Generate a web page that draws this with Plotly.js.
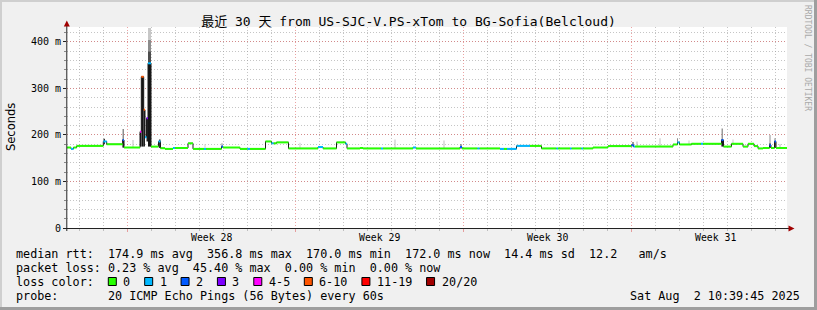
<!DOCTYPE html>
<html><head><meta charset="utf-8">
<script src="https://cdn.plot.ly/plotly-3.0.1.min.js"></script>
<style>html,body{margin:0;padding:0;background:#f0f0f0}#chart{width:817px;height:310px}</style>
</head><body><div id="chart"></div>
<script>
// ---------------- data ----------------
const titleText = '最近 30 天 from US-SJC-V.PS-xTom to BG-Sofia(Belcloud)';
const rangeStart = '2025-07-03 11:42';
const rangeEnd = '2025-08-02 11:42';
const weekStarts = '2025-07-06';
const dayStarts = '2025-07-04';
const weekLabelAt = ['2025-07-09 12:00', '2025-07-16 12:00', '2025-07-23 12:00', '2025-07-30 12:00'];
const weekLabels = ['Week 28', 'Week 29', 'Week 30', 'Week 31'];
const yTickVals = [0, 100, 200, 300, 400];
const yTickText = ['0', '100 m', '200 m', '300 m', '400 m'];

// median RTT (ms): segment start time, value, loss class index
const medT = ['2025-07-03 11:42','2025-07-03 15:42','2025-07-03 18:12','2025-07-03 21:24','2025-07-05 00:00','2025-07-05 03:24','2025-07-05 19:24','2025-07-05 20:42','2025-07-06 12:42','2025-07-06 14:00','2025-07-06 16:24','2025-07-06 17:42','2025-07-06 19:12','2025-07-06 20:42','2025-07-06 23:42','2025-07-07 07:12','2025-07-07 09:12','2025-07-07 13:42','2025-07-07 21:42','2025-07-07 23:42','2025-07-08 12:42','2025-07-08 17:42','2025-07-09 04:42','2025-07-09 06:42','2025-07-09 22:12','2025-07-09 23:42','2025-07-10 16:42','2025-07-11 00:12','2025-07-11 02:42','2025-07-11 18:12','2025-07-12 00:12','2025-07-12 02:12','2025-07-12 05:12','2025-07-12 17:12','2025-07-13 22:42','2025-07-14 03:42','2025-07-14 17:12','2025-07-15 02:12','2025-07-15 03:42','2025-07-15 16:42','2025-07-15 19:42','2025-07-16 13:42','2025-07-16 15:42','2025-07-17 21:42','2025-07-18 00:42','2025-07-19 20:42','2025-07-19 22:42','2025-07-20 14:12','2025-07-20 16:12','2025-07-21 12:42','2025-07-21 16:42','2025-07-21 19:42','2025-07-22 05:12','2025-07-22 18:42','2025-07-23 06:12','2025-07-23 21:12','2025-07-23 22:42','2025-07-24 10:42','2025-07-24 12:12','2025-07-24 22:12','2025-07-24 23:42','2025-07-25 09:42','2025-07-26 00:42','2025-07-27 00:12','2025-07-27 02:12','2025-07-27 03:42','2025-07-28 17:42','2025-07-28 22:12','2025-07-29 00:12','2025-07-29 12:12','2025-07-29 21:42','2025-07-29 23:42','2025-07-30 18:12','2025-07-30 20:12','2025-07-31 04:12','2025-07-31 15:42','2025-07-31 20:42','2025-08-01 02:42','2025-08-01 06:42','2025-08-01 11:42','2025-08-01 18:12','2025-08-01 19:42','2025-08-01 23:12','2025-08-02 00:42'];
const medV = [173,170,173,176.5,186,180,189,173,207,325,254,195,236,354,175,186,171.5,170,172,172,182,170,170,170,175,173,170,170,170,186,182,182,184,171,174,171,184,181,171,172,171,171,171,173,171,174,171,171,171,170,170,170,176.5,176.5,171,171,171,171,171,171,171,173,176,178,175,175,179.5,184,179.5,181,181,181,189,175,181,175,181,176,171,172,178,172,186,172];
const medLoss = [0,1,0,0,1,0,2,0,4,5,5,1,3,1,0,1,0,0,1,0,0,0,1,0,2,0,0,1,0,0,1,0,0,0,1,0,0,1,0,0,0,1,0,1,0,2,0,1,0,1,0,1,1,0,0,1,0,1,0,1,0,0,0,2,1,0,0,1,0,0,1,0,2,0,0,0,0,0,0,0,2,0,2,0];

// smoke (ping spread) samples
const smokeFrom = ['2025-07-05 00:12','2025-07-05 19:12','2025-07-05 19:12','2025-07-06 05:12','2025-07-06 12:42','2025-07-06 14:00','2025-07-06 16:24','2025-07-06 19:12','2025-07-06 20:42','2025-07-06 20:42','2025-07-06 20:42','2025-07-06 20:42','2025-07-07 07:42','2025-07-09 05:12','2025-07-09 22:12','2025-07-13 04:12','2025-07-17 03:12','2025-07-19 04:12','2025-07-19 21:12','2025-07-27 01:12','2025-07-27 05:12','2025-07-28 04:12','2025-07-28 21:42','2025-07-29 09:12','2025-07-30 18:12','2025-07-30 18:12','2025-07-31 05:12','2025-08-01 18:12','2025-08-01 18:12','2025-08-01 23:12','2025-08-01 23:12','2025-08-02 04:12'];
const smokeTo = ['2025-07-05 01:42','2025-07-05 20:42','2025-07-05 20:42','2025-07-06 06:12','2025-07-06 13:42','2025-07-06 16:24','2025-07-06 17:42','2025-07-06 20:42','2025-07-06 23:42','2025-07-06 23:42','2025-07-06 23:42','2025-07-06 23:42','2025-07-07 09:12','2025-07-09 06:12','2025-07-09 23:12','2025-07-13 05:12','2025-07-17 04:12','2025-07-19 05:12','2025-07-19 22:12','2025-07-27 02:12','2025-07-27 06:12','2025-07-28 05:12','2025-07-28 22:42','2025-07-29 10:12','2025-07-30 19:42','2025-07-30 19:42','2025-07-31 06:12','2025-08-01 19:12','2025-08-01 19:12','2025-08-02 00:12','2025-08-02 00:12','2025-08-02 05:12'];
const smokeLo = [180,173,173,173,175,175,175,186,175,354,380,405,172,170,172,171,171,171,171,175,175,175,179,179,175,175,181,172,172,172,172,172];
const smokeHi = [192,213,190,189,207,325,254,236,354,380,405,430,190,180,182,183,190,188,180,185,186,193,193,188,214,190,190,200,182,193,186,180];
const smokeDensity = [0.8,0.45,0.85,0.25,0.9,0.92,0.88,0.88,0.92,0.7,0.45,0.22,0.8,0.2,0.45,0.2,0.25,0.25,0.8,0.8,0.3,0.25,0.45,0.2,0.4,0.9,0.2,0.45,0.85,0.5,0.9,0.3];

// legend / statistics
const lossLabels = ['0', '1', '2', '3', '4-5', '6-10', '11-19', '20/20'];
const lossColors = ['#26ff00', '#00b8ff', '#0059ff', '#7e00ff', '#ff00ff', '#ff5500', '#ff0000', '#a10000'];
const rttAvg = 174.9, rttMax = 356.8, rttMin = 170.0, rttNow = 172.0, rttSd = 14.4, rttAms = 12.2;
const lossAvg = 0.23, lossMax = 45.40, lossMin = 0.00, lossNow = 0.00;
const probeText = '20 ICMP Echo Pings (56 Bytes) every 60s';
const stampText = 'Sat Aug  2 10:39:45 2025';
const watermark = 'RRDTOOL / TOBI OETIKER';

// ---------------- drawing ----------------
const msOf = s => { const [d, t] = s.split(' '); const [Y, M, D] = d.split('-').map(Number); const [h, m] = (t || '00:00').split(':').map(Number); return Date.UTC(Y, M - 1, D, h, m); };
const nb = s => s.replace(/ /g, '\u00a0');
const MONO = 'DejaVu Sans Mono, monospace';
const FS = 11.75, CW = FS * 0.602;

// plot box in pixels
const L = 67, T = 27, W = 720, H = 201;
const px = x => (x - L) / W;
const py = y => (T + H - y) / H;

const traces = [];
// smoke
traces.push({
  type: 'bar', x: smokeFrom, base: smokeLo,
  y: smokeHi.map((h, i) => h - smokeLo[i]),
  width: smokeFrom.map((f, i) => msOf(smokeTo[i]) - msOf(f)),
  offset: 0,
  marker: { color: smokeDensity.map(d => { const c = Math.round(255 * (1 - d)); return `rgb(${c},${c},${c})`; }), line: { width: 0 } },
  hoverinfo: 'skip'
});
// dark step connecting median values
traces.push({
  type: 'scatter', mode: 'lines', x: medT.concat([rangeEnd]), y: medV.concat([medV[medV.length - 1]]),
  line: { shape: 'hv', color: '#1a1a1a', width: 1 }, hoverinfo: 'skip'
});
// loss coloured median segments
lossColors.forEach((col, k) => {
  const xs = [], ys = [];
  medT.forEach((t, i) => {
    if (medLoss[i] !== k) return;
    xs.push(t, i + 1 < medT.length ? medT[i + 1] : rangeEnd, null);
    ys.push(medV[i], medV[i], null);
  });
  if (xs.length) traces.push({ type: 'scatter', mode: 'lines', x: xs, y: ys, line: { color: col, width: 2 }, connectgaps: false, hoverinfo: 'skip' });
});

const gridMinor = 'rgba(150,150,150,0.55)';
const gridMajor = 'rgba(220,90,90,0.55)';
const dash = '1px,2px';

const ann = [];
const shapes = [];
const txt = (x, y, text, opt) => ann.push(Object.assign({ xref: 'paper', yref: 'paper', x: px(x), y: py(y), text: nb(text), showarrow: false, xanchor: 'left', yanchor: 'middle', borderpad: 0, font: { family: MONO, size: FS, color: '#000' } }, opt || {}));

// week labels through the x scale
weekLabelAt.forEach((t, i) => ann.push({ xref: 'x', yref: 'paper', x: t, y: py(237.5), text: nb(weekLabels[i]), showarrow: false, xanchor: 'center', yanchor: 'middle', font: { family: MONO, size: 9.8, color: '#000' } }));

const f1 = v => v.toFixed(1), f2 = v => v.toFixed(2);
const X0 = 14.5;
txt(X0, 254, `median rtt:  ${f1(rttAvg)} ms avg  ${f1(rttMax)} ms max  ${f1(rttMin)} ms min  ${f1(rttNow)} ms now  ${f1(rttSd)} ms sd  ${f1(rttAms)}   am/s`);
txt(X0, 268, `packet loss: ${f2(lossAvg)} % avg  ${f2(lossMax)} % max  ${f2(lossMin)} % min  ${f2(lossNow)} % now`);
txt(X0, 282, 'loss color:');
txt(X0, 296, 'probe:       ' + probeText);
txt(801, 296, stampText, { xanchor: 'right' });
txt(11, 127, 'Seconds', { xanchor: 'center', textangle: -90, font: { family: 'DejaVu Sans, sans-serif', size: 11.5, color: '#000' } });
txt(807, 58, watermark, { xanchor: 'center', textangle: 90, font: { family: MONO, size: 8, color: '#a9a9a9' } });

// loss colour legend boxes
let cur = 108.3;
lossLabels.forEach((lab, i) => {
  shapes.push({ type: 'rect', xref: 'paper', yref: 'paper', x0: px(cur), x1: px(cur + 8), y0: py(277.5), y1: py(285.5), fillcolor: lossColors[i], line: { color: '#000', width: 1 } });
  const lx = cur + 14;
  txt(lx, 282, lab);
  cur = lx + lab.length * CW + 15.3;
});

// axes lines and arrows
shapes.push({ type: 'line', xref: 'paper', yref: 'paper', x0: px(63), x1: px(789), y0: py(228.5), y1: py(228.5), line: { color: '#222', width: 1 } });
shapes.push({ type: 'line', xref: 'paper', yref: 'paper', x0: px(66.8), x1: px(66.8), y0: py(231), y1: py(25), line: { color: '#222', width: 1 } });
shapes.push({ type: 'path', xref: 'paper', yref: 'paper', path: `M ${px(794.5)} ${py(228.5)} L ${px(788.5)} ${py(225.5)} L ${px(788.5)} ${py(231.5)} Z`, fillcolor: '#a00000', line: { width: 0 } });
shapes.push({ type: 'path', xref: 'paper', yref: 'paper', path: `M ${px(66.8)} ${py(20.5)} L ${px(63.8)} ${py(26.5)} L ${px(69.8)} ${py(26.5)} Z`, fillcolor: '#a00000', line: { width: 0 } });
// frame shading
shapes.push({ type: 'rect', xref: 'paper', yref: 'paper', x0: px(0), x1: px(817), y0: py(0), y1: py(2), fillcolor: '#cfcfcf', line: { width: 0 } });
shapes.push({ type: 'rect', xref: 'paper', yref: 'paper', x0: px(0), x1: px(2), y0: py(0), y1: py(310), fillcolor: '#cfcfcf', line: { width: 0 } });
shapes.push({ type: 'rect', xref: 'paper', yref: 'paper', x0: px(814), x1: px(817), y0: py(0), y1: py(310), fillcolor: '#9e9e9e', line: { width: 0 } });
shapes.push({ type: 'rect', xref: 'paper', yref: 'paper', x0: px(0), x1: px(817), y0: py(307), y1: py(310), fillcolor: '#9e9e9e', line: { width: 0 } });

const layout = {
  width: 817, height: 310,
  margin: { l: L, r: 817 - L - W, t: T, b: 310 - T - H, pad: 0 },
  paper_bgcolor: '#f0f0f0', plot_bgcolor: '#ffffff',
  showlegend: false, barmode: 'overlay',
  title: { text: titleText, font: { family: 'DejaVu Sans Mono, Noto Sans CJK SC, monospace', size: 13, color: '#000' }, x: 0.5, xref: 'container', xanchor: 'center', y: 1 - 21.5 / 310, yref: 'container', yanchor: 'middle' },
  xaxis: {
    type: 'date', range: [rangeStart, rangeEnd], tickmode: 'linear', tick0: weekStarts, dtick: 7 * 864e5,
    showticklabels: false, showgrid: true, gridcolor: gridMajor, griddash: dash, gridwidth: 1,
    ticks: 'outside', ticklen: 3, tickcolor: gridMajor, showline: false, zeroline: false, fixedrange: true,
    minor: { tickmode: 'linear', tick0: dayStarts, dtick: 864e5, showgrid: true, gridcolor: gridMinor, griddash: dash, ticks: 'outside', ticklen: 2, tickcolor: gridMinor }
  },
  yaxis: {
    range: [0, 432], tickmode: 'array', tickvals: yTickVals, ticktext: yTickText,
    showgrid: true, gridcolor: gridMajor, griddash: dash, gridwidth: 1,
    ticks: 'outside', ticklen: 3, tickcolor: '#222', showline: false, zeroline: false, fixedrange: true,
    tickfont: { family: MONO, size: 10, color: '#000' },
    minor: { tickmode: 'linear', tick0: 0, dtick: 20, showgrid: true, gridcolor: gridMinor, griddash: dash, ticks: 'outside', ticklen: 2, tickcolor: '#888' }
  },
  annotations: ann, shapes: shapes
};

Plotly.newPlot('chart', traces, layout, { staticPlot: true, displayModeBar: false });
</script>
</body></html>
